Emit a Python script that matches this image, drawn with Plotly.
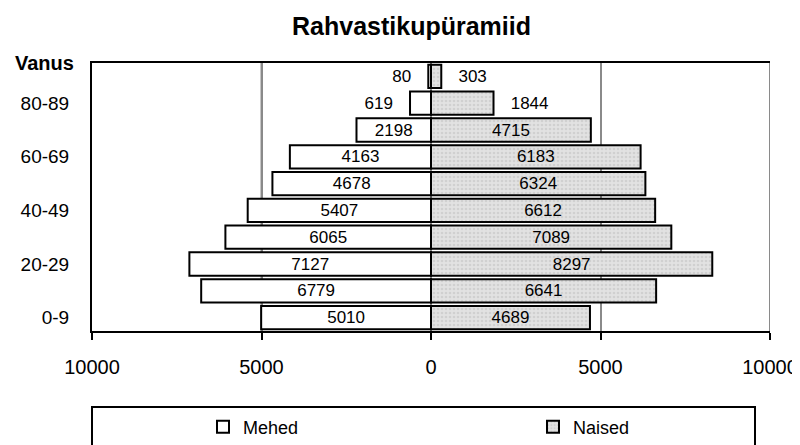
import plotly.graph_objects as go

categories = ["0-9", "10-19", "20-29", "30-39", "40-49", "50-59", "60-69", "70-79", "80-89", "90+"]
mehed = [5010, 6779, 7127, 6065, 5407, 4678, 4163, 2198, 619, 80]
naised = [4689, 6641, 8297, 7089, 6612, 6324, 6183, 4715, 1844, 303]
shown_labels = ["0-9", "20-29", "40-49", "60-69", "80-89"]
x_ticks = [-10000, -5000, 0, 5000, 10000]
x_ticktext = ["10000", "5000", "0", "5000", "10000"]

SANS = "Liberation Sans, Arial, sans-serif"
NB = "\u00a0"

# page has an 8px body margin; figure is sized so the page matches 800x445
OFF = 8
W, H = 800 - OFF, 445 - OFF


def cx(px):
    return (px - OFF) / W


def cy(py):
    return 1 - (py - OFF) / H


male_pos = ["outside" if v < 1000 else "inside" for v in mehed]
female_pos = ["outside" if v < 2000 else "inside" for v in naised]
male_tmpl = [("%{text}" + NB * 3) if p == "outside" else "%{text}" for p in male_pos]
female_tmpl = [(NB * 3 + "%{text}") if p == "outside" else "%{text}" for p in female_pos]

fig = go.Figure()
fig.add_trace(go.Bar(
    y=categories, x=[-v for v in mehed], orientation="h", name="Mehed",
    text=[str(v) for v in mehed], texttemplate=male_tmpl, textposition=male_pos,
    insidetextanchor="middle", textangle=0, cliponaxis=False,
    textfont=dict(family=SANS, size=17, color="black"),
    marker=dict(color="white", line=dict(color="black", width=2)),
    hoverinfo="skip", legend="legend",
))
fig.add_trace(go.Bar(
    y=categories, x=naised, orientation="h", name="Naised",
    text=[str(v) for v in naised], texttemplate=female_tmpl, textposition=female_pos,
    insidetextanchor="middle", textangle=0, cliponaxis=False,
    textfont=dict(family=SANS, size=17, color="black"),
    marker=dict(color="#dcdcdc", line=dict(color="black", width=2),
                pattern=dict(shape=".", fgcolor="#bdbdbd", bgcolor="#e2e2e2", size=4, solidity=0.35)),
    hoverinfo="skip", legend="legend2",
))

leg_common = dict(orientation="h", yref="container", y=cy(427), yanchor="middle",
                  xref="container", xanchor="left",
                  font=dict(family=SANS, size=18, color="black"),
                  bgcolor="rgba(0,0,0,0)", itemclick=False, itemdoubleclick=False)

L, R, T, B = 92, 770, 63, 331

fig.update_layout(
    width=W, height=H,
    margin=dict(l=L - OFF, r=800 - R, t=T - OFF, b=445 - B, autoexpand=False),
    paper_bgcolor="white", plot_bgcolor="white",
    barmode="relative", bargap=0.13,
    uniformtext=dict(mode="show", minsize=17),
    title=dict(text="Rahvastikupüramiid", x=cx(411.5), xanchor="center",
               y=cy(26), yanchor="middle", yref="container",
               font=dict(family=SANS, size=25, color="black", weight="bold")),
    showlegend=True,
    legend=dict(x=cx(203), **leg_common),
    legend2=dict(x=cx(533), **leg_common),
    xaxis=dict(range=[-10000, 10000], tickvals=x_ticks, ticktext=x_ticktext,
               showgrid=True, gridcolor="#8a8a8a", gridwidth=1.5,
               zeroline=True, zerolinecolor="#8a8a8a", zerolinewidth=1.5,
               showline=True, linecolor="black", linewidth=2, mirror=True,
               ticks="outside", ticklen=7, tickwidth=1.5, tickcolor="black",
               tickfont=dict(family=SANS, size=20, color="black"),
               ticklabelstandoff=10, automargin=False, fixedrange=True),
    yaxis=dict(type="category", categoryorder="array", categoryarray=categories,
               tickvals=shown_labels, ticktext=shown_labels,
               showgrid=False, zeroline=False,
               showline=True, linecolor="black", linewidth=2,
               ticks="", tickfont=dict(family=SANS, size=19, color="black"),
               ticklabelstandoff=17, automargin=False, fixedrange=True),
    annotations=[dict(text="<b>Vanus</b>", xref="paper", yref="paper",
                      x=(76 - L) / (R - L), y=1.0, xanchor="right", yanchor="middle",
                      showarrow=False, font=dict(family=SANS, size=20, color="black"))],
    shapes=[
        dict(type="line", xref="x", yref="paper", x0=-5000, x1=-5000, y0=0, y1=1,
             line=dict(color="#222222", width=1.5), layer="below"),
        dict(type="line", xref="x", yref="paper", x0=10000, x1=10000, y0=0, y1=1,
             line=dict(color="#8a8a8a", width=2), layer="below"),
        dict(type="rect", xref="paper", yref="paper",
             x0=0, x1=(755 - L) / (R - L), y0=(B - 407) / (B - T), y1=-0.6,
             line=dict(color="black", width=2), fillcolor="rgba(0,0,0,0)", layer="below"),
    ],
)

fig.write_html("out.html")
